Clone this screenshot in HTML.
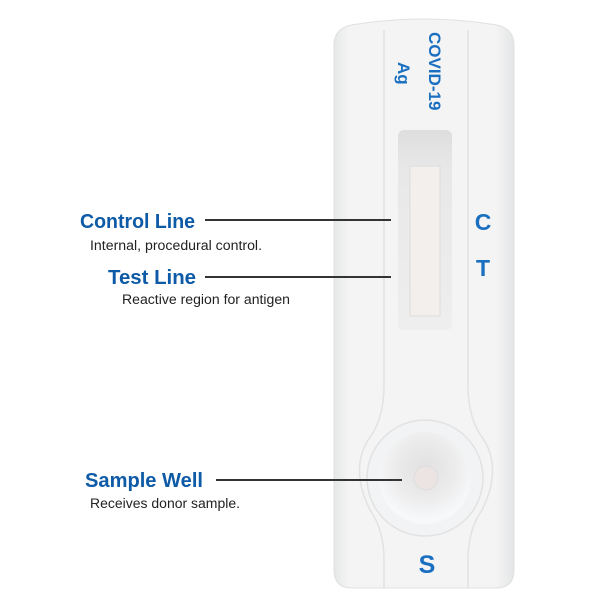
<!DOCTYPE html>
<html><head><meta charset="utf-8"><style>
html,body{margin:0;padding:0;background:#fff;}
body{width:600px;height:600px;overflow:hidden;position:relative;font-family:"Liberation Sans",sans-serif;}
svg{position:absolute;left:0;top:0;}
</style></head><body>
<svg width="600" height="600" viewBox="0 0 600 600">
<defs>
<radialGradient id="well" cx="50%" cy="40%" r="55%">
<stop offset="0" stop-color="#e2e0e0"/><stop offset="0.6" stop-color="#ececec"/><stop offset="1" stop-color="#f7f8fa"/>
</radialGradient>
<linearGradient id="body" x1="0" x2="1">
<stop offset="0" stop-color="#e6e7e8"/><stop offset="0.08" stop-color="#f4f4f4"/><stop offset="0.9" stop-color="#f4f4f4"/><stop offset="1" stop-color="#e4e5e6"/>
</linearGradient>
<linearGradient id="win" x1="0" y1="0" x2="0" y2="1">
<stop offset="0" stop-color="#dedede"/><stop offset="0.2" stop-color="#e8e8e8"/><stop offset="1" stop-color="#eeeeee"/>
</linearGradient>
</defs>
<path d="M334 45 Q334 26 358 24 Q424 14 490 24 Q514 26 514 45 L514 570 Q514 588 496 588 L352 588 Q334 588 334 570 Z" fill="url(#body)" stroke="#e0e0e0" stroke-width="1"/>
<path d="M384 30 L384 385 Q384 420 368 440 Q350 470 370 510 Q384 530 384 560 L384 588" fill="none" stroke="#e2e2e2" stroke-width="1.5"/>
<path d="M468 30 L468 385 Q468 420 484 440 Q502 470 482 510 Q468 530 468 560 L468 588" fill="none" stroke="#e2e2e2" stroke-width="1.5"/>
<rect x="398" y="130" width="54" height="200" rx="6" fill="url(#win)"/>
<rect x="410" y="166" width="30" height="150" fill="#f3efed" stroke="#dcdcdc" stroke-width="1"/>
<circle cx="425" cy="478" r="58" fill="#f2f3f4" stroke="#e2e2e2" stroke-width="1.5"/>
<circle cx="425" cy="478" r="46" fill="url(#well)"/>
<circle cx="426" cy="478" r="12" fill="#ebe4e2" stroke="#ddd" stroke-width="1"/>
<text transform="translate(429,32) rotate(90)" font-weight="bold" font-size="17" fill="#1a6fc0">COVID-19</text>
<text transform="translate(398,62) rotate(90)" font-weight="bold" font-size="17" fill="#1a6fc0">Ag</text>
<text x="483" y="230" text-anchor="middle" font-weight="bold" font-size="23" fill="#1a6fc0">C</text>
<text x="483" y="276" text-anchor="middle" font-weight="bold" font-size="23" fill="#1a6fc0">T</text>
<text x="427" y="573" text-anchor="middle" font-weight="bold" font-size="25" fill="#1a6fc0">S</text>
<line x1="205" y1="220" x2="391" y2="220" stroke="#333" stroke-width="2"/>
<line x1="205" y1="277" x2="391" y2="277" stroke="#333" stroke-width="2"/>
<line x1="216" y1="480" x2="402" y2="480" stroke="#333" stroke-width="2"/>
<text x="80" y="228" font-weight="bold" font-size="20" fill="#0d5aa7" textLength="115" lengthAdjust="spacingAndGlyphs">Control Line</text>
<text x="90" y="250" font-size="13.5" fill="#222" textLength="172" lengthAdjust="spacingAndGlyphs">Internal, procedural control.</text>
<text x="108" y="284" font-weight="bold" font-size="20" fill="#0d5aa7" textLength="88" lengthAdjust="spacingAndGlyphs">Test Line</text>
<text x="122" y="304" font-size="13.5" fill="#222" textLength="168" lengthAdjust="spacingAndGlyphs">Reactive region for antigen</text>
<text x="85" y="487" font-weight="bold" font-size="20" fill="#0d5aa7" textLength="118" lengthAdjust="spacingAndGlyphs">Sample Well</text>
<text x="90" y="508" font-size="13.5" fill="#222" textLength="150" lengthAdjust="spacingAndGlyphs">Receives donor sample.</text>
</svg>
</body></html>
